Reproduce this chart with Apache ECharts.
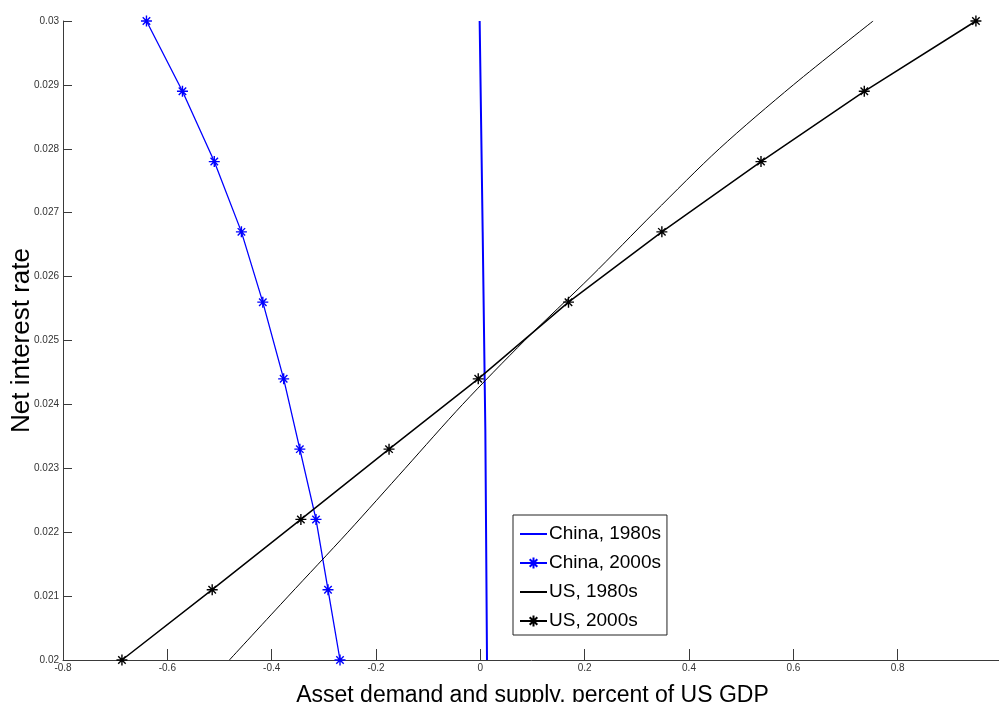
<!DOCTYPE html>
<html>
<head>
<meta charset="utf-8">
<script src="https://cdn.jsdelivr.net/npm/echarts@6/dist/echarts.min.js"></script>
<style>
html,body{margin:0;padding:0;background:#fff;}
#chart{width:999px;height:702px;}
</style>
</head>
<body>
<div id="chart"></div>
<script>
// ---- data ----
const seriesNames = ['China, 1980s', 'China, 2000s', 'US, 1980s', 'US, 2000s'];

// China, 1980s (solid blue line, no markers)
const china1980Rate = [0.0200, 0.0236, 0.0267, 0.0300];
const china1980X    = [0.0128, 0.0096, 0.0045, -0.0013];

// China, 2000s (blue line with star markers)
const china2000Rate = [0.0200, 0.0211, 0.0222, 0.0233, 0.0244, 0.0256, 0.0267, 0.0278, 0.0289, 0.0300];
const china2000X    = [-0.269, -0.292, -0.315, -0.346, -0.377, -0.417, -0.458, -0.510, -0.571, -0.640];

// US, 1980s (thin black line, no markers)
const us1980Rate = [0.020, 0.021, 0.022, 0.023, 0.024, 0.025, 0.026, 0.027, 0.028, 0.029, 0.030];
const us1980X    = [-0.481, -0.368, -0.254, -0.144, -0.034, 0.085, 0.212, 0.333, 0.458, 0.600, 0.753];

// US, 2000s (black line with star markers)
const us2000Rate = [0.0200, 0.0211, 0.0222, 0.0233, 0.0244, 0.0256, 0.0267, 0.0278, 0.0289, 0.0300];
const us2000X    = [-0.687, -0.514, -0.344, -0.175, -0.004, 0.169, 0.348, 0.538, 0.736, 0.950];

// axis ticks
const xTicks = [-0.8, -0.6, -0.4, -0.2, 0, 0.2, 0.4, 0.6, 0.8, 1];
const yTicks = [0.02, 0.021, 0.022, 0.023, 0.024, 0.025, 0.026, 0.027, 0.028, 0.029, 0.03];

const xTitle = 'Asset demand and supply, percent of US GDP';
const yTitle = 'Net interest rate';

// ---- build ----
function pairs(xs, ys) { return xs.map((x, i) => [x, ys[i]]); }
const STAR = 'path://M5 0L5 10M0 5L10 5M1.6 1.6L8.4 8.4M1.6 8.4L8.4 1.6';
const FONT = 'Liberation Sans, Arial, sans-serif';
const HIDDEN = {color: 'rgba(0,0,0,0)', borderColor: 'rgba(0,0,0,0)', borderWidth: 0, opacity: 0};

const chart = echarts.init(document.getElementById('chart'), null, {renderer: 'canvas'});
chart.setOption({
  animation: false,
  backgroundColor: '#ffffff',
  grid: {left: 63, top: 21, right: -3, bottom: 42, containLabel: false, outerBoundsMode: 'none'},
  xAxis: {
    type: 'value',
    min: xTicks[0], max: xTicks[xTicks.length - 1], interval: 0.2,
    splitLine: {show: false},
    axisLine: {show: true, onZero: false, lineStyle: {color: '#3a3a3a', width: 1}},
    axisTick: {show: true, inside: true, length: 11, lineStyle: {color: '#3a3a3a'}},
    axisLabel: {
      show: true, margin: 3, fontSize: 10, color: '#333', fontFamily: FONT,
      showMinLabel: true, showMaxLabel: true, hideOverlap: false,
      formatter: v => String(parseFloat(v.toFixed(1)))
    },
    name: xTitle, nameLocation: 'middle', nameGap: 24, nameMoveOverlap: false,
    nameTextStyle: {fontSize: 23, color: '#000', fontFamily: FONT}
  },
  yAxis: {
    type: 'value',
    min: yTicks[0], max: yTicks[yTicks.length - 1], interval: 0.001,
    splitLine: {show: false},
    axisLine: {show: true, onZero: false, lineStyle: {color: '#3a3a3a', width: 1}},
    axisTick: {show: true, inside: true, length: 9, lineStyle: {color: '#3a3a3a'}},
    axisLabel: {
      show: true, margin: 4, fontSize: 10, color: '#333', fontFamily: FONT,
      showMinLabel: true, showMaxLabel: true, hideOverlap: false,
      formatter: v => String(parseFloat(v.toFixed(3)))
    },
    name: yTitle, nameLocation: 'middle', nameGap: 28, nameRotate: 90, nameMoveOverlap: false,
    nameTextStyle: {fontSize: 26, color: '#000', fontFamily: FONT}
  },
  legend: {
    orient: 'vertical',
    left: 513, top: 515,
    padding: [9, 6, 4, 6],
    itemGap: 9, itemWidth: 27, itemHeight: 14,
    backgroundColor: '#fff',
    borderColor: '#222', borderWidth: 1, borderRadius: 0,
    textStyle: {fontSize: 19, color: '#000', fontFamily: FONT, lineHeight: 20, padding: [0, 0, 0, -3]},
    data: [
      {name: seriesNames[0], itemStyle: HIDDEN},
      {name: seriesNames[1]},
      {name: seriesNames[2], itemStyle: HIDDEN},
      {name: seriesNames[3]}
    ]
  },
  series: [
    {
      name: seriesNames[0], type: 'line', data: pairs(china1980X, china1980Rate),
      symbol: 'none', lineStyle: {color: '#0000ff', width: 2}, itemStyle: {color: '#0000ff'}
    },
    {
      name: seriesNames[1], type: 'line', data: pairs(china2000X, china2000Rate),
      symbol: STAR, symbolSize: 11, showSymbol: true,
      lineStyle: {color: '#0000ff', width: 1.3},
      itemStyle: {color: '#0000ff', borderColor: '#0000ff', borderWidth: 1.4}
    },
    {
      name: seriesNames[2], type: 'line', data: pairs(us1980X, us1980Rate),
      symbol: 'none', smooth: 0.3, lineStyle: {color: '#000', width: 1}, itemStyle: {color: '#000'}
    },
    {
      name: seriesNames[3], type: 'line', data: pairs(us2000X, us2000Rate),
      symbol: STAR, symbolSize: 11, showSymbol: true,
      lineStyle: {color: '#000', width: 1.5},
      itemStyle: {color: '#000', borderColor: '#000', borderWidth: 1.4}
    }
  ]
});
</script>
</body>
</html>
